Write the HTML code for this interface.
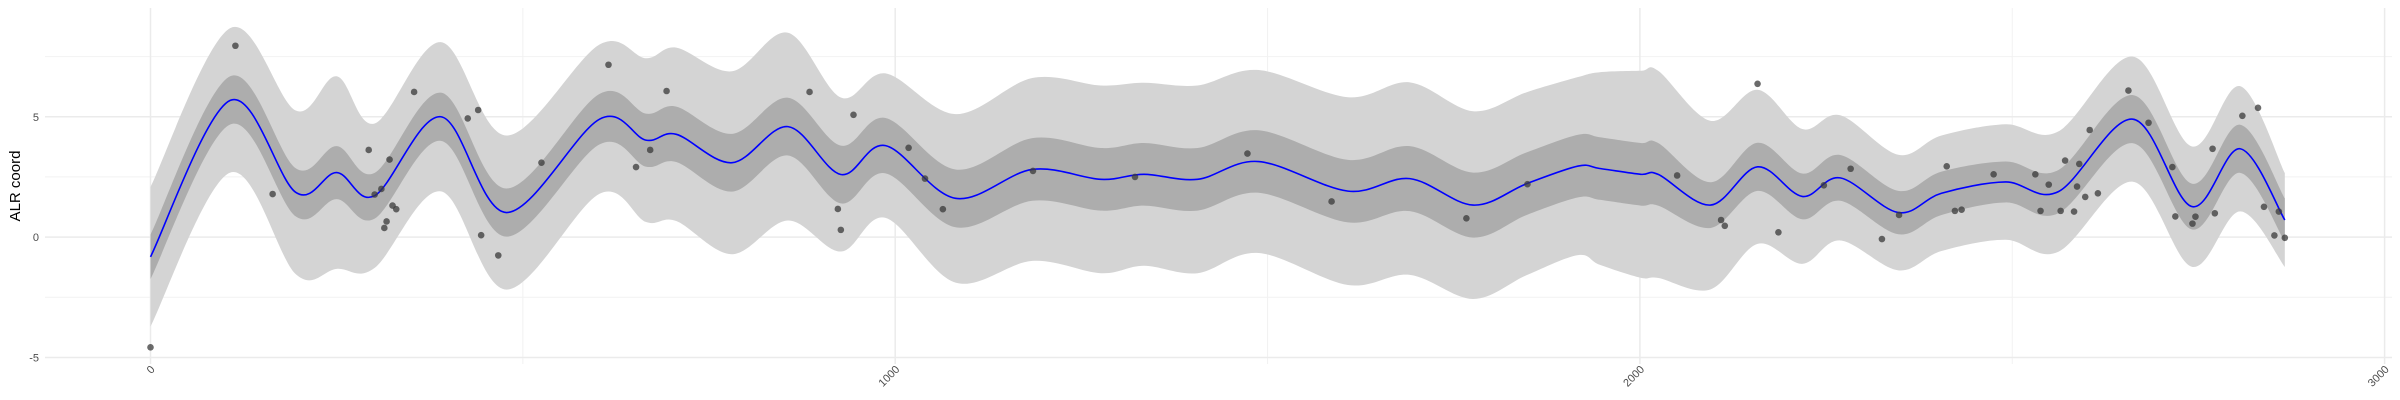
<!DOCTYPE html>
<html><head><meta charset="utf-8"><style>
html,body{margin:0;padding:0;background:#fff;}
svg{display:block;font-family:"Liberation Sans",sans-serif;}
</style></head><body>
<svg id="chart" width="2400" height="400" viewBox="0 0 2400 400" xmlns="http://www.w3.org/2000/svg">
<g id="grid"></g>
<g id="bands"></g>
<g id="line"></g>
<g id="points"></g>
<g id="axes"></g>
<text x="0" y="0" transform="translate(20,186) rotate(-90)" text-anchor="middle" font-size="15" fill="#000">ALR coord</text>
</svg>
<script>
const curveX = [0,107,195,250,301,390,478,603,665,706,781,856,927,987,1081,1184,1276,1334,1406,1488,1608,1691,1776,1848,1917,1946,2001,2025,2095,2158,2218,2269,2347,2405,2491,2562,2662,2741,2806,2866];
const curveY = [-0.82,5.68,1.86,2.68,1.72,5.0,1.02,4.9,4.03,4.27,3.09,4.59,2.6,3.8,1.61,2.81,2.4,2.61,2.4,3.14,1.91,2.43,1.33,2.22,2.95,2.85,2.61,2.6,1.33,2.92,1.69,2.46,1.02,1.82,2.29,1.89,4.9,1.27,3.67,0.71];
const innerHalf = [0.92,1.0,1.0,1.1,0.95,1.0,1.0,1.05,1.1,1.15,1.2,1.2,1.2,1.15,1.2,1.3,1.3,1.3,1.3,1.3,1.3,1.35,1.35,1.3,1.3,1.3,1.3,1.3,0.95,1.0,0.95,0.95,0.9,0.9,0.85,0.9,1.0,0.95,1.0,0.9];
const outerHalf = [2.9,3.0,3.4,4.0,3.0,3.1,3.2,3.1,3.4,3.6,3.8,3.9,3.2,3.0,3.5,3.8,3.9,3.8,3.9,3.8,3.9,4.0,3.9,3.8,3.7,4.0,4.3,4.3,3.5,3.2,2.8,2.6,2.4,2.4,2.4,2.5,2.6,2.5,2.6,1.95];
const ptX = [0,114,164,293,301,310,321,325,330,317,314,354,426,440,444,467,525,615,652,671,693,885,944,923,927,1018,1040,1064,1185,1322,1473,1586,1767,1849,2050,2109,2114,2158,2186,2247,2283,2325,2348,2412,2423,2432,2475,2531,2538,2549,2565,2571,2583,2587,2590,2598,2604,2615,2656,2683,2715,2719,2742,2746,2769,2772,2809,2830,2838,2852,2858,2866];
const ptY = [-4.58,7.95,1.79,3.62,1.77,2.0,3.22,1.31,1.16,0.65,0.38,6.03,4.93,5.28,0.08,-0.76,3.09,7.16,2.91,3.62,6.07,6.03,5.08,1.17,0.3,3.71,2.43,1.16,2.75,2.5,3.47,1.48,0.78,2.2,2.56,0.71,0.47,6.37,0.2,2.15,2.84,-0.08,0.92,2.94,1.09,1.14,2.61,2.61,1.09,2.18,1.09,3.18,1.06,2.1,3.04,1.67,4.45,1.82,6.09,4.75,2.91,0.86,0.56,0.85,3.67,0.99,5.04,5.37,1.26,0.07,1.06,-0.03];
const xTicks = [0,1000,2000,3000];
const xMinor = [500,1500,2500];
const yTicks = [-5,0,5];
const yMinor = [-2.5,2.5,7.5];

const NS = "http://www.w3.org/2000/svg";
const sx = v => 150.5 + v * 0.7447;
const sy = v => 237.1 - v * 24.07;
function mk(tag, parent, attrs){ const e=document.createElementNS(NS,tag); for(const k in attrs) e.setAttribute(k,attrs[k]); parent.appendChild(e); return e; }
function smooth(pts){
  let d = `M${pts[0][0]},${pts[0][1]}`;
  for(let i=0;i<pts.length-1;i++){
    const p0=pts[Math.max(0,i-1)], p1=pts[i], p2=pts[i+1], p3=pts[Math.min(pts.length-1,i+2)];
    const c1x=p1[0]+(p2[0]-p0[0])/6, c1y=p1[1]+(p2[1]-p0[1])/6;
    const c2x=p2[0]-(p3[0]-p1[0])/6, c2y=p2[1]-(p3[1]-p1[1])/6;
    d += ` C${c1x},${c1y} ${c2x},${c2y} ${p2[0]},${p2[1]}`;
  }
  return d;
}
function bandPath(half){
  const up = curveX.map((x,i)=>[sx(x), sy(curveY[i]+half[i])]);
  const lo = curveX.map((x,i)=>[sx(x), sy(curveY[i]-half[i])]).reverse();
  return smooth(up) + " L" + smooth(lo).slice(1) + " Z";
}
const grid=document.getElementById('grid'), axes=document.getElementById('axes');
yMinor.forEach(v=>{ const l=mk('line',grid,{x1:45,x2:2392,y1:sy(v),y2:sy(v),stroke:'#f2f2f2','stroke-width':1});
  });
xMinor.forEach(v=>{ const l=mk('line',grid,{x1:sx(v),x2:sx(v),y1:8,y2:364,stroke:'#f2f2f2','stroke-width':1});
  });
yTicks.forEach(v=>{ const l=mk('line',grid,{x1:45,x2:2392,y1:sy(v),y2:sy(v),stroke:'#ebebeb','stroke-width':1.5});
 
const t=mk('text',axes,{x:39,y:sy(v)+4,'text-anchor':'end','font-size':11,fill:'#4d4d4d'}); t.textContent=v;
  });
xTicks.forEach(v=>{ const l=mk('line',grid,{x1:sx(v),x2:sx(v),y1:8,y2:364,stroke:'#ebebeb','stroke-width':1.5});
 
const t=mk('text',axes,{x:0,y:0,'text-anchor':'end','font-size':11,fill:'#4d4d4d',transform:`translate(${sx(v)+5},370) rotate(-45)`}); t.textContent=v;
  });
const bands=document.getElementById('bands');
const ob=mk('path',bands,{d:bandPath(outerHalf),fill:'#d4d4d4'});
 
const ib=mk('path',bands,{d:bandPath(innerHalf),fill:'#adadad'});
 
const ln=mk('path',document.getElementById('line'),{d:smooth(curveX.map((x,i)=>[sx(x),sy(curveY[i])])),fill:'none',stroke:'#0000ff','stroke-width':1.6});
 
const pg=document.getElementById('points');
ptX.forEach((x,i)=>{ const c=mk('circle',pg,{cx:sx(x),cy:sy(ptY[i]),r:3.3,fill:'#3a3a3a','fill-opacity':0.75});
  });
</script>
</body></html>
